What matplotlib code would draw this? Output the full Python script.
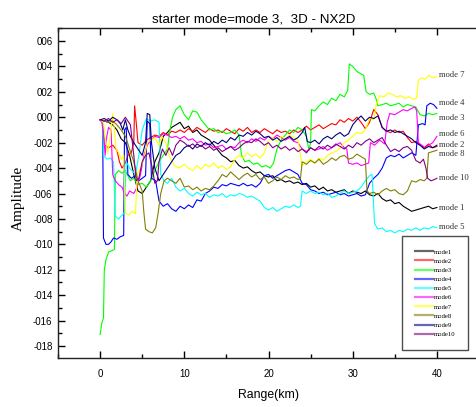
import matplotlib
matplotlib.use("Agg")
import matplotlib.pyplot as plt
from matplotlib.ticker import MultipleLocator, FuncFormatter

# ---------------- data ----------------
mode1_x = [0, 0.5, 1, 1.5, 2, 2.5, 3, 3.5, 4, 4.5, 5, 5.5, 6, 6.5, 7, 7.5, 8, 8.5, 9, 9.5, 10, 10.5, 11, 11.5, 12, 13, 13.5, 14, 14.5, 15, 15.5, 16, 16.5, 17, 17.5, 18, 18.5, 19, 19.5, 20, 20.5, 21, 21.5, 22, 22.5, 23, 23.5, 24, 24.5, 25, 25.5, 26, 26.5, 27, 27.5, 28, 28.5, 29, 29.5, 30, 30.5, 31, 31.5, 32, 32.5, 33, 33.5, 34, 34.5, 35, 35.5, 36, 36.5, 37, 37.5, 38, 38.5, 39, 39.5, 40]
mode1_y = [-0.002, -0.003, -0.004, -0.006, -0.010, -0.017, -0.020, -0.030, -0.045, -0.058, -0.060, -0.055, -0.050, -0.035, -0.028, -0.015, -0.012, -0.008, -0.006, -0.004, -0.009, -0.007, -0.012, -0.010, -0.014, -0.018, -0.022, -0.026, -0.030, -0.032, -0.035, -0.034, -0.038, -0.040, -0.039, -0.042, -0.044, -0.043, -0.046, -0.047, -0.046, -0.050, -0.049, -0.051, -0.050, -0.052, -0.051, -0.053, -0.052, -0.055, -0.054, -0.057, -0.055, -0.058, -0.057, -0.059, -0.058, -0.057, -0.060, -0.058, -0.059, -0.060, -0.058, -0.061, -0.062, -0.060, -0.064, -0.066, -0.065, -0.068, -0.067, -0.070, -0.072, -0.074, -0.073, -0.072, -0.071, -0.070, -0.072, -0.071]

mode2_x = [0, 0.3, 0.5, 1, 1.5, 2, 2.3, 2.6, 3, 3.3, 3.7, 4.0, 4.1, 4.3, 4.5, 5, 5.5, 6, 6.5, 7, 7.5, 8, 8.5, 9, 9.5, 10, 10.5, 11, 11.5, 12, 12.5, 13, 13.5, 14, 14.5, 15, 15.5, 16, 16.5, 17, 17.5, 18, 18.5, 19, 19.5, 20, 20.5, 21, 21.5, 22, 22.5, 23, 23.5, 24, 24.5, 25, 25.5, 26, 26.5, 27, 27.5, 28, 28.5, 29, 29.5, 30, 30.5, 31, 31.5, 32, 32.5, 33, 33.5, 34, 34.5, 35, 35.5, 36, 36.5, 37, 37.5, 38, 38.5, 39, 39.5, 40]
mode2_y = [-0.002, -0.004, -0.022, -0.024, -0.022, -0.026, -0.035, -0.040, -0.036, -0.030, -0.028, -0.020, 0.009, -0.005, -0.020, -0.022, -0.018, -0.016, -0.014, -0.015, -0.012, -0.014, -0.011, -0.012, -0.010, -0.012, -0.009, -0.011, -0.008, -0.010, -0.012, -0.009, -0.011, -0.010, -0.012, -0.009, -0.011, -0.013, -0.009, -0.011, -0.008, -0.012, -0.010, -0.012, -0.009, -0.011, -0.013, -0.010, -0.012, -0.011, -0.013, -0.010, -0.012, -0.010, -0.007, -0.010, -0.008, -0.006, -0.009, -0.007, -0.005, -0.006, -0.002, -0.004, -0.001, -0.003, 0.000, -0.004, -0.009, -0.004, 0.006, 0.002, -0.008, -0.011, -0.012, -0.010, -0.012, -0.011, -0.016, -0.020, -0.019, -0.022, -0.024, -0.021, -0.024, -0.023]

mode3_x = [0, 0.2, 0.4, 0.5, 0.7, 1.0, 1.4, 1.7, 1.8, 2.2, 2.6, 3, 3.3, 3.6, 4, 4.5, 5, 5.5, 6, 6.5, 7, 7.5, 8, 8.3, 8.6, 9, 9.5, 10, 10.5, 11, 11.5, 12, 12.5, 13, 13.5, 14, 14.5, 15, 15.5, 16, 16.5, 16.8, 17.2, 17.7, 18.2, 18.7, 19.2, 19.7, 20.2, 20.6, 21, 21.5, 22, 22.5, 23, 23.5, 24, 24.5, 24.8, 25, 25.1, 25.5, 26, 26.5, 27, 27.5, 28, 28.5, 29, 29.4, 29.6, 30, 30.5, 31, 31.3, 31.6, 32, 32.5, 32.8, 33, 33.5, 34, 34.5, 35, 35.5, 36, 36.5, 37, 37.5, 38, 38.5, 39, 39.5, 40]
mode3_y = [-0.171, -0.162, -0.158, -0.120, -0.112, -0.106, -0.105, -0.104, -0.045, -0.042, -0.044, -0.042, -0.046, -0.050, -0.048, -0.053, -0.052, -0.055, -0.050, -0.042, -0.035, -0.030, -0.025, -0.010, 0.000, 0.006, 0.009, 0.002, -0.002, 0.005, 0.004, -0.002, -0.006, -0.010, -0.009, -0.012, -0.011, -0.013, -0.012, -0.010, -0.014, -0.030, -0.035, -0.034, -0.037, -0.036, -0.039, -0.038, -0.040, -0.036, -0.025, -0.018, -0.014, -0.010, -0.012, -0.008, -0.010, -0.015, -0.026, -0.020, 0.006, 0.005, 0.009, 0.012, 0.010, 0.015, 0.013, 0.018, 0.016, 0.021, 0.042, 0.040, 0.036, 0.034, 0.033, 0.020, 0.018, 0.019, 0.014, 0.009, 0.010, 0.011, 0.009, 0.010, 0.011, 0.008, 0.010, 0.009, 0.008, 0.002, 0.001, 0.003, 0.002, 0.003]

mode4_x = [0, 0.3, 0.4, 0.7, 1, 1.3, 1.6, 2, 2.4, 2.8, 2.9, 3.1, 3.3, 3.7, 4.2, 4.6, 5, 5.4, 5.6, 5.9, 6.1, 6.6, 7, 7.5, 8, 8.5, 9, 9.5, 10, 10.5, 11, 11.5, 12, 12.5, 13, 13.5, 14, 14.5, 15, 15.5, 16, 16.5, 17, 17.5, 18, 18.5, 19, 19.5, 20, 20.5, 21, 21.5, 22, 22.5, 23, 23.5, 24, 24.5, 25, 25.5, 26, 26.5, 27, 27.5, 28, 28.5, 29, 29.5, 30, 30.5, 31, 31.5, 32, 32.5, 33, 33.5, 34, 34.5, 35, 35.5, 36, 36.5, 37, 37.5, 37.8, 38.3, 38.6, 38.8, 39.2, 39.6, 40]
mode4_y = [-0.002, -0.003, -0.095, -0.100, -0.100, -0.098, -0.095, -0.096, -0.094, -0.093, -0.010, -0.008, -0.045, -0.048, -0.046, -0.050, -0.048, -0.046, -0.003, -0.005, -0.048, -0.050, -0.066, -0.070, -0.068, -0.072, -0.074, -0.070, -0.072, -0.069, -0.071, -0.065, -0.066, -0.060, -0.058, -0.055, -0.056, -0.053, -0.054, -0.052, -0.053, -0.054, -0.052, -0.054, -0.053, -0.055, -0.052, -0.046, -0.045, -0.048, -0.046, -0.044, -0.042, -0.041, -0.043, -0.045, -0.052, -0.053, -0.057, -0.058, -0.060, -0.059, -0.061, -0.060, -0.059, -0.061, -0.060, -0.062, -0.061, -0.060, -0.062, -0.061, -0.052, -0.048, -0.045, -0.040, -0.032, -0.030, -0.031, -0.029, -0.032, -0.030, -0.028, -0.030, -0.006, -0.005, -0.006, 0.009, 0.011, 0.010, 0.007]

mode5_x = [0, 0.3, 0.4, 0.8, 1.2, 1.6, 1.8, 2.2, 2.6, 2.9, 3.1, 3.5, 4.2, 4.6, 5, 5.5, 6, 6.5, 7, 7.2, 7.6, 8, 8.5, 9, 9.5, 10, 10.5, 11, 11.5, 12, 12.5, 13, 13.5, 14, 14.5, 15, 15.5, 16, 16.5, 17, 17.5, 18, 18.5, 19, 19.5, 20, 20.5, 21, 21.5, 22, 22.5, 23, 23.5, 23.8, 24, 24.5, 25, 25.5, 26, 26.5, 27, 27.5, 28, 28.5, 29, 29.5, 30, 30.5, 31, 31.5, 32, 32.3, 32.6, 33, 33.5, 34, 34.5, 35, 35.5, 36, 36.5, 37, 37.5, 38, 38.5, 39, 39.5, 40]
mode5_y = [-0.002, -0.003, -0.030, -0.033, -0.032, -0.035, -0.078, -0.080, -0.077, -0.075, -0.035, -0.040, -0.045, -0.030, -0.010, -0.001, -0.003, -0.002, -0.004, -0.045, -0.050, -0.052, -0.048, -0.055, -0.058, -0.056, -0.060, -0.062, -0.059, -0.061, -0.060, -0.063, -0.061, -0.062, -0.060, -0.063, -0.061, -0.062, -0.060, -0.061, -0.063, -0.062, -0.064, -0.066, -0.071, -0.073, -0.071, -0.074, -0.072, -0.070, -0.071, -0.069, -0.071, -0.070, -0.058, -0.060, -0.058, -0.060, -0.059, -0.061, -0.060, -0.063, -0.062, -0.060, -0.058, -0.060, -0.059, -0.058, -0.055, -0.050, -0.046, -0.045, -0.084, -0.088, -0.087, -0.090, -0.089, -0.091, -0.089, -0.090, -0.088, -0.089, -0.087, -0.089, -0.087, -0.088, -0.086, -0.087]

mode6_x = [0, 0.2, 0.4, 0.6, 0.8, 1.0, 1.3, 1.5, 1.8, 2.2, 2.6, 2.9, 3.2, 3.5, 4, 4.4, 4.8, 5.2, 5.6, 6, 6.5, 7, 7.5, 8, 8.5, 9, 9.5, 10, 10.5, 11, 11.5, 12, 12.5, 13, 13.5, 14, 14.5, 15, 15.5, 16, 16.5, 17, 17.5, 18, 18.5, 19, 19.5, 20, 20.5, 21, 21.5, 22, 22.5, 23, 23.5, 24, 24.5, 25, 25.5, 26, 26.5, 27, 27.5, 28, 28.5, 29, 29.3, 29.5, 30, 30.5, 31, 31.5, 31.9, 32.1, 32.6, 33.2, 33.8, 34.1, 34.4, 35, 35.5, 36, 36.5, 37, 37.4, 37.6, 37.8, 38.2, 38.6, 39, 39.5, 40]
mode6_y = [-0.002, -0.004, -0.012, -0.030, -0.015, -0.008, -0.010, -0.045, -0.050, -0.053, -0.055, -0.060, -0.062, -0.058, -0.060, -0.055, -0.045, -0.030, -0.022, -0.018, -0.015, -0.016, -0.013, -0.014, -0.016, -0.015, -0.017, -0.015, -0.018, -0.017, -0.020, -0.019, -0.022, -0.021, -0.024, -0.023, -0.022, -0.025, -0.023, -0.024, -0.020, -0.018, -0.020, -0.017, -0.019, -0.016, -0.018, -0.015, -0.017, -0.014, -0.016, -0.018, -0.016, -0.019, -0.020, -0.025, -0.027, -0.024, -0.026, -0.025, -0.023, -0.026, -0.024, -0.022, -0.020, -0.024, -0.025, -0.036, -0.037, -0.036, -0.038, -0.037, -0.036, -0.020, -0.022, -0.018, -0.021, -0.004, 0.003, 0.002, 0.004, 0.006, 0.005, 0.007, 0.008, 0.005, -0.020, -0.022, -0.024, -0.022, -0.020, -0.015]

mode7_x = [0, 0.4, 0.6, 0.9, 1.1, 1.3, 1.5, 1.7, 1.9, 2.2, 2.5, 2.8, 3.0, 3.4, 3.8, 4.2, 4.4, 4.8, 5.2, 5.6, 6, 6.5, 7, 7.3, 7.8, 8.2, 8.8, 9.4, 10, 10.5, 11, 11.5, 12, 12.5, 13, 13.5, 14, 14.5, 15, 15.5, 16, 16.5, 17, 17.5, 18, 18.5, 19, 19.5, 20, 20.5, 21, 21.5, 22, 22.5, 23, 23.5, 23.8, 24, 24.5, 25, 25.5, 26, 26.5, 27, 27.5, 28, 28.5, 29, 29.5, 30, 30.5, 31, 31.5, 32, 32.5, 32.8, 33.2, 33.7, 34.2, 34.7, 35.2, 35.7, 36.2, 36.7, 37.2, 37.6, 37.8, 38.2, 38.6, 39, 39.5, 40]
mode7_y = [-0.002, -0.004, -0.015, -0.028, -0.020, -0.010, 0.003, -0.010, -0.025, -0.028, -0.033, -0.030, -0.075, -0.077, -0.074, -0.076, -0.045, -0.040, -0.033, -0.020, -0.018, -0.016, -0.022, -0.015, -0.020, -0.030, -0.038, -0.040, -0.037, -0.040, -0.042, -0.038, -0.041, -0.037, -0.039, -0.036, -0.040, -0.038, -0.041, -0.039, -0.033, -0.030, -0.032, -0.028, -0.031, -0.029, -0.032, -0.028, -0.018, -0.016, -0.019, -0.015, -0.017, -0.014, -0.016, -0.018, -0.030, -0.038, -0.035, -0.033, -0.036, -0.032, -0.034, -0.030, -0.028, -0.027, -0.024, -0.020, -0.018, -0.015, -0.012, -0.013, -0.010, -0.001, -0.002, 0.010, 0.017, 0.016, 0.019, 0.018, 0.016, 0.017, 0.015, 0.016, 0.014, 0.015, 0.029, 0.031, 0.030, 0.033, 0.031, 0.032]

mode8_x = [0, 0.5, 1, 1.5, 2, 2.5, 3, 3.5, 4, 4.5, 5, 5.2, 5.4, 5.8, 6.2, 6.6, 6.9, 7.2, 7.6, 8, 8.5, 9, 9.5, 10, 10.5, 11, 11.5, 12, 12.5, 13, 13.5, 14, 14.5, 15, 15.5, 16, 16.5, 17, 17.5, 18, 18.5, 19, 19.5, 20, 20.5, 21, 21.5, 22, 22.5, 23, 23.5, 23.8, 24, 24.5, 25, 25.5, 26, 26.5, 27, 27.5, 28, 28.5, 29, 29.5, 30, 30.5, 31, 31.5, 31.7, 32, 32.5, 33, 33.5, 34, 34.5, 35, 35.5, 36, 36.5, 37, 37.5, 38, 38.5, 38.8, 39, 39.5, 40]
mode8_y = [-0.002, -0.003, -0.004, -0.003, -0.006, -0.010, -0.015, -0.025, -0.035, -0.050, -0.058, -0.075, -0.088, -0.090, -0.091, -0.087, -0.075, -0.060, -0.050, -0.048, -0.050, -0.052, -0.048, -0.055, -0.054, -0.057, -0.055, -0.058, -0.056, -0.057, -0.054, -0.050, -0.045, -0.047, -0.043, -0.046, -0.049, -0.046, -0.044, -0.047, -0.045, -0.049, -0.047, -0.052, -0.050, -0.047, -0.049, -0.046, -0.048, -0.047, -0.049, -0.048, -0.035, -0.037, -0.034, -0.036, -0.033, -0.037, -0.035, -0.032, -0.034, -0.031, -0.030, -0.033, -0.032, -0.029, -0.031, -0.033, -0.058, -0.060, -0.059, -0.061, -0.058, -0.056, -0.058, -0.057, -0.060, -0.061, -0.058, -0.050, -0.051, -0.049, -0.050, -0.048, -0.028, -0.027, -0.026]

mode9_x = [0, 0.5, 1, 1.5, 2, 2.4, 2.7, 3, 3.3, 3.6, 4, 4.5, 5, 5.4, 5.6, 5.9, 6.1, 6.5, 7, 7.5, 8, 8.5, 9, 9.5, 10, 10.5, 11, 11.5, 12, 12.5, 13, 13.5, 14, 14.5, 15, 15.5, 16, 16.5, 17, 17.5, 18, 18.5, 19, 19.5, 20, 20.5, 21, 21.5, 22, 22.5, 23, 23.5, 24, 24.3, 24.6, 25, 25.5, 26, 26.5, 27, 27.5, 28, 28.5, 29, 29.5, 30, 30.5, 31, 31.5, 32, 32.5, 33, 33.5, 34, 34.5, 35, 35.5, 36, 36.5, 37, 37.5, 38, 38.5, 39, 39.5, 40]
mode9_y = [-0.002, -0.001, -0.003, 0.000, -0.002, -0.005, -0.010, -0.002, -0.010, -0.015, -0.020, -0.025, -0.030, -0.020, 0.003, 0.002, -0.020, -0.040, -0.050, -0.045, -0.040, -0.035, -0.030, -0.028, -0.024, -0.022, -0.025, -0.021, -0.023, -0.020, -0.022, -0.019, -0.021, -0.018, -0.020, -0.016, -0.018, -0.014, -0.015, -0.012, -0.014, -0.011, -0.013, -0.016, -0.015, -0.018, -0.016, -0.019, -0.017, -0.015, -0.018, -0.016, -0.012, -0.008, -0.019, -0.020, -0.018, -0.021, -0.017, -0.015, -0.017, -0.014, -0.012, -0.015, -0.013, -0.006, -0.002, 0.001, -0.003, 0.000, -0.001, 0.001, -0.008, -0.011, -0.010, -0.012, -0.011, -0.013, -0.015, -0.017, -0.020, -0.022, -0.025, -0.023, -0.024, -0.022]

mode10_x = [0, 0.5, 1, 1.5, 2, 2.5, 3, 3.3, 3.6, 4, 4.3, 4.6, 5, 5.4, 5.8, 6.2, 6.5, 6.8, 7.0, 7.4, 7.8, 8.2, 8.6, 9, 9.5, 10, 10.5, 11, 11.5, 12, 12.5, 13, 13.5, 14, 14.5, 15, 15.5, 16, 16.5, 17, 17.5, 18, 18.5, 19, 19.5, 20, 20.5, 21, 21.5, 22, 22.5, 23, 23.5, 24, 24.5, 25, 25.5, 26, 26.5, 27, 27.5, 28, 28.5, 29, 29.5, 30, 30.5, 31, 31.5, 32, 32.5, 33, 33.5, 34, 34.5, 35, 35.5, 36, 36.5, 37, 37.5, 38, 38.4, 38.7, 38.9, 39.3, 39.7, 40]
mode10_y = [-0.002, -0.003, -0.001, -0.004, -0.002, -0.005, 0.000, -0.003, -0.006, -0.030, -0.050, -0.048, -0.035, -0.030, -0.028, -0.040, -0.052, -0.050, -0.035, -0.025, -0.030, -0.024, -0.030, -0.022, -0.018, -0.020, -0.023, -0.021, -0.024, -0.022, -0.025, -0.023, -0.026, -0.024, -0.027, -0.025, -0.023, -0.026, -0.024, -0.021, -0.019, -0.020, -0.017, -0.019, -0.022, -0.020, -0.024, -0.022, -0.025, -0.023, -0.026, -0.024, -0.027, -0.025, -0.028, -0.024, -0.026, -0.023, -0.025, -0.022, -0.024, -0.021, -0.023, -0.025, -0.022, -0.024, -0.020, -0.022, -0.019, -0.017, -0.020, -0.018, -0.016, -0.022, -0.027, -0.025, -0.027, -0.024, -0.023, -0.026, -0.034, -0.036, -0.033, -0.040, -0.048, -0.050, -0.049, -0.048]

series_x = [mode1_x, mode2_x, mode3_x, mode4_x, mode5_x, mode6_x, mode7_x, mode8_x, mode9_x, mode10_x]
series_y = [mode1_y, mode2_y, mode3_y, mode4_y, mode5_y, mode6_y, mode7_y, mode8_y, mode9_y, mode10_y]
legend_labels = ["mode1", "mode2", "mode3", "mode4", "mode5", "mode6", "mode7", "mode8", "mode9", "mode10"]
colors = ["#000000", "#FF0000", "#00FF00", "#0000FF", "#00FFFF", "#FF00FF", "#FFFF00", "#808000", "#000080", "#800080"]

end_labels = ["mode 7", "mode 4", "mode 3", "mode 6", "mode 2", "mode 8", "mode 10", "mode 1", "mode 5"]
end_label_y = [0.0333, 0.0113, -0.0006, -0.0131, -0.0219, -0.029, -0.048, -0.0711, -0.086]

title = "starter mode=mode 3,  3D - NX2D"

# ---------------- figure ----------------
W, H = 477, 407
fig = plt.figure(figsize=(W / 100, H / 100), dpi=100)
ax = fig.add_axes([58 / W, (H - 358) / H, (479 - 58) / W, (358 - 28) / H])

for xs, ys, c, lab in zip(series_x, series_y, colors, legend_labels):
    ax.plot(xs, ys, color=c, lw=0.8, label=lab)

ax.set_xlim(-5, 45)
ax.set_ylim(-0.1894, 0.0702)

ax.xaxis.set_major_locator(MultipleLocator(10))
ax.xaxis.set_minor_locator(MultipleLocator(5))
ax.yaxis.set_major_locator(MultipleLocator(0.02))
ax.yaxis.set_minor_locator(MultipleLocator(0.01))
ax.yaxis.set_major_formatter(FuncFormatter(lambda v, p: f"{round(v, 2):.2f}".replace(".", "").replace("-000", "000")))

ax.tick_params(axis="both", which="both", direction="in", top=True, right=False, color="black")
ax.tick_params(axis="both", which="major", length=5, width=1)
ax.tick_params(axis="both", which="minor", length=3, width=1)
ax.tick_params(axis="x", which="both", pad=8)
ax.tick_params(axis="y", which="both", pad=4)
for t in ax.get_xticklabels() + ax.get_yticklabels():
    t.set_fontfamily("Liberation Sans")
    t.set_fontsize(7.0)

for s in ["left", "bottom", "top"]:
    ax.spines[s].set_linewidth(1.0)
    ax.spines[s].set_color("#222222")
ax.spines["right"].set_visible(False)

for lab, yv in zip(end_labels, end_label_y):
    ax.text(40.3, yv, lab, fontsize=6.2, family="Liberation Serif", color="#333333",
            va="center", ha="left", clip_on=False)

leg = ax.legend(loc="lower left", bbox_to_anchor=(0.817, 0.024), prop={"family": "Liberation Serif", "size": 4.9},
                frameon=True, fancybox=False, edgecolor="#222222", borderpad=1.9, labelspacing=0.5,
                handlelength=2.6, handletextpad=0.15, borderaxespad=0.0)
leg.get_frame().set_linewidth(1.0)
for h in leg.get_lines():
    h.set_linewidth(1.6)
    h.set_alpha(0.6)

fig.text(254 / W, 1 - 20 / H, title, ha="center", va="center", fontsize=9.6, family="Liberation Sans")
fig.text(269 / W, 1 - 395 / H, "Range(km)", ha="center", va="center", fontsize=8.8, family="Liberation Sans")
fig.text(18 / W, 1 - 198 / H, "Amplitude", ha="center", va="center", rotation=90, fontsize=11, family="Liberation Serif")

fig.savefig("out.png", dpi=100)
